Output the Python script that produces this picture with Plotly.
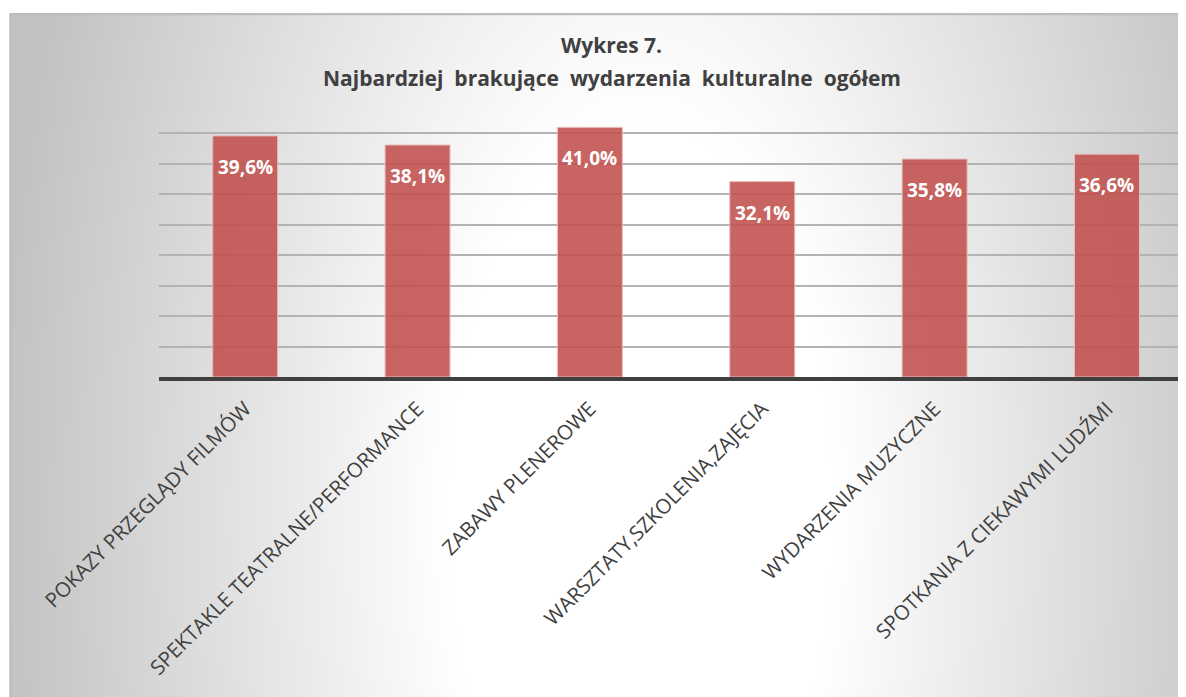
import base64
import plotly.graph_objects as go

categories = [
    "POKAZY PRZEGLĄDY FILMÓW",
    "SPEKTAKLE TEATRALNE/PERFORMANCE",
    "ZABAWY PLENEROWE",
    "WARSZTATY,SZKOLENIA,ZAJĘCIA",
    "WYDARZENIA MUZYCZNE",
    "SPOTKANIA Z CIEKAWYMI LUDŹMI",
]
values = [39.6, 38.1, 41.0, 32.1, 35.8, 36.6]
labels = [f"{v:.1f}".replace(".", ",") + "%" for v in values]
title_line1 = "Wykres 7."
title_line2 = "Najbardziej brakujące wydarzenia kulturalne ogółem"

# page has an 8px body margin; figure is sized to fill the rest of the window
OFF = 8
W, H = 1186 - OFF, 697 - OFF
ML = 158.75 - OFF
MT = 103 - OFF
BASE = 377 - OFF
MB = H - BASE
PW = W - ML
PH = H - MT - MB

def px_x(sx):
    return (sx - OFF - ML) / PW

def px_y(sy):
    return (BASE - (sy - OFF)) / PH

# chart-area background (radial gradient + frame) as SVG
fx0, fy0 = 9, 13
fw, fh = 1186 - fx0 + 12, 697 - fy0 + 12
svg = (
    f'<svg xmlns="http://www.w3.org/2000/svg" width="{fw}" height="{fh}" viewBox="0 0 {fw} {fh}" preserveAspectRatio="none">'
    '<defs><radialGradient id="g" gradientUnits="userSpaceOnUse" cx="0" cy="0" r="1" '
    'gradientTransform="translate(631,500) scale(640,1300)">'
    '<stop offset="0" stop-color="#ffffff"/><stop offset="0.3" stop-color="#ffffff"/>'
    '<stop offset="1" stop-color="#c2c2c2"/></radialGradient></defs>'
    f'<rect x="1" y="1" width="{fw-2}" height="{fh-2}" fill="url(#g)" stroke="#bdbdbd" stroke-width="2.5"/></svg>'
)
src = "data:image/svg+xml;base64," + base64.b64encode(svg.encode()).decode()

fig = go.Figure()
fig.add_trace(go.Bar(
    x=categories, y=values,
    marker=dict(color="rgba(192,80,77,0.88)", line=dict(color="#E8BDBC", width=1)),
    hoverinfo="skip",
))

annotations = []
for c, v, t in zip(categories, values, labels):
    annotations.append(dict(
        x=c, y=v, xref="x", yref="y", text=t, showarrow=False,
        yanchor="top", yshift=-16,
        font=dict(family="Open Sans", size=19, color="white", weight="bold"),
    ))
gap = "\u00a0 "
annotations.append(dict(
    x=px_x(611), y=px_y(45), xref="paper", yref="paper", text=title_line1,
    showarrow=False, xanchor="center", yanchor="middle",
    font=dict(family="Open Sans", size=21, color="#404040", weight="bold"),
))
annotations.append(dict(
    x=px_x(612), y=px_y(78), xref="paper", yref="paper", text=title_line2.replace(" ", gap),
    showarrow=False, xanchor="center", yanchor="middle",
    font=dict(family="Open Sans", size=21, color="#404040", weight="bold"),
))

fig.update_layout(
    width=W, height=H,
    margin=dict(l=ML, r=0, t=MT, b=MB, pad=0),
    paper_bgcolor="white", plot_bgcolor="rgba(0,0,0,0)",
    showlegend=False,
    bargap=0.623,
    annotations=annotations,
    images=[dict(
        source=src, xref="paper", yref="paper",
        x=px_x(fx0), y=px_y(fy0), sizex=fw / PW, sizey=fh / PH,
        xanchor="left", yanchor="top", sizing="stretch", layer="below",
    )],
    xaxis=dict(
        range=[-0.5, -0.5 + PW / 172.4],
        tickangle=-45, ticks="", showgrid=False, automargin=False,
        showline=True, linecolor="#404040", linewidth=3.5,
        tickfont=dict(family="Open Sans", size=20.5, color="#404040"),
        ticklabelstandoff=8,
        fixedrange=True,
    ),
    yaxis=dict(
        range=[0, 45], dtick=5, showticklabels=False, ticks="",
        showgrid=True, gridcolor="#b3b3b3", gridwidth=1.5, automargin=False,
        zeroline=False, fixedrange=True,
    ),
)

fig.write_html("out.html")
